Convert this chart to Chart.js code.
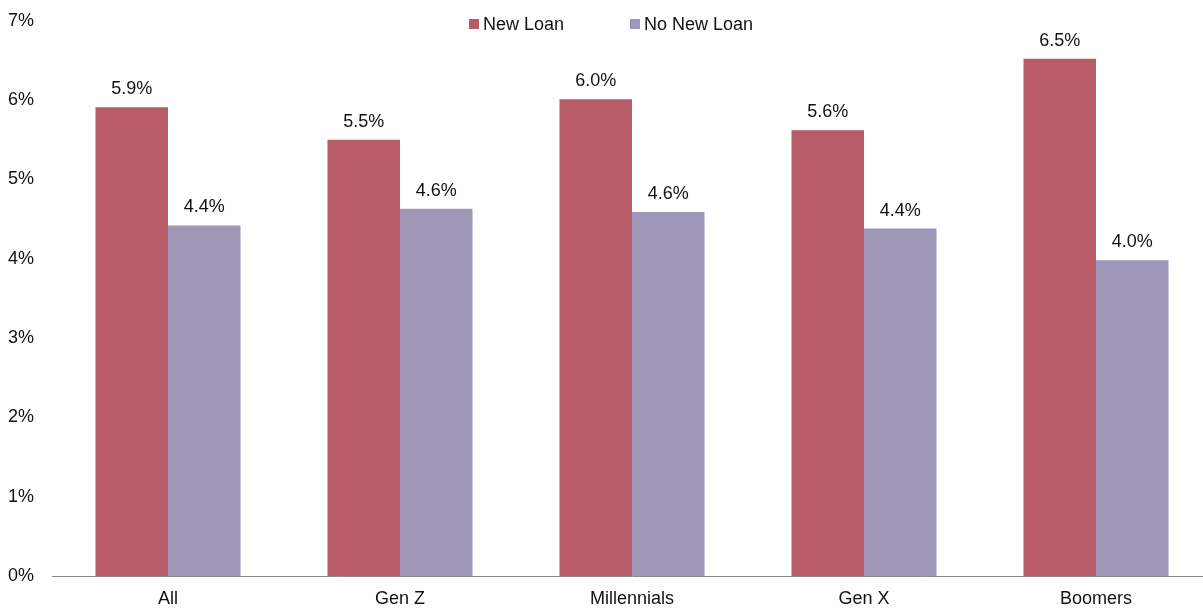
<!DOCTYPE html>
<html>
<head>
<meta charset="utf-8">
<script src="https://cdn.jsdelivr.net/npm/chart.js@4/dist/chart.umd.min.js"></script>
<style>
  html, body { margin: 0; padding: 0; background: #fff; overflow: hidden; }
  .wrap { position: relative; width: 1203px; height: 608px; overflow: hidden; }
  .legend {
    position: absolute; top: 14px; left: 469px;
    font-family: "Liberation Sans", Arial, sans-serif; font-size: 18px; color: #111;
    display: flex; gap: 66px;
  }
  .legend span.sw { display: inline-block; width: 10px; height: 10px; margin-right: 4px; vertical-align: 1px; }
</style>
</head>
<body>
<div class="wrap">
  <!-- plot runs slightly past the right edge, so the canvas is a bit wider than the frame -->
  <canvas id="loanChart" width="1212" height="608"></canvas>
  <div class="legend">
    <div><span class="sw" style="background:#b85c68"></span>New Loan</div>
    <div><span class="sw" style="background:#9e97b8"></span>No New Loan</div>
  </div>
</div>
<script>
// Categories and series (percent)
const groups = ['All', 'Gen Z', 'Millennials', 'Gen X', 'Boomers'];
const newLoan = [5.91, 5.50, 6.01, 5.62, 6.52];
const noNewLoan = [4.42, 4.63, 4.59, 4.38, 3.98];
const yTicks = [0, 1, 2, 3, 4, 5, 6, 7];

const FONT = '"Liberation Sans", Arial, sans-serif';

// Value labels above each bar
const barLabels = {
    id: 'barLabels',
    afterDatasetsDraw(chart) {
        const ctx = chart.ctx;
        ctx.save();
        ctx.font = '18px ' + FONT;
        ctx.fillStyle = '#111';
        ctx.textAlign = 'center';
        ctx.textBaseline = 'middle';
        chart.data.datasets.forEach((ds, i) => {
            chart.getDatasetMeta(i).data.forEach((bar, j) => {
                ctx.fillText(ds.data[j].toFixed(1) + '%', bar.x, bar.y - 18);
            });
        });
        ctx.restore();
    }
};

new Chart(document.getElementById('loanChart'), {
    type: 'bar',
    data: {
        labels: groups,
        datasets: [
            { label: 'New Loan', data: newLoan, backgroundColor: '#b85c68' },
            { label: 'No New Loan', data: noNewLoan, backgroundColor: '#9e97b8' }
        ]
    },
    options: {
        responsive: false,
        animation: false,
        categoryPercentage: 0.625,
        barPercentage: 1.0,
        layout: { padding: { top: 17, right: 0, left: 8 } },
        plugins: {
            legend: { display: false },
            tooltip: { enabled: false }
        },
        scales: {
            x: {
                grid: { display: false, drawTicks: false },
                border: { display: true, color: '#8c8c8c', width: 1 },
                ticks: { color: '#111', font: { family: FONT, size: 18 }, padding: 12 },
                afterFit(scale) { scale.height = 32; }
            },
            y: {
                min: 0,
                max: 7,
                afterBuildTicks(scale) { scale.ticks = yTicks.map(v => ({ value: v })); },
                grid: { display: false, drawTicks: false },
                border: { display: false },
                ticks: {
                    color: '#111',
                    font: { family: FONT, size: 18 },
                    crossAlign: 'far',
                    padding: 10,
                    callback: v => v + '%'
                },
                afterFit(scale) { scale.width = 44; }
            }
        }
    },
    plugins: [barLabels]
});
</script>
</body>
</html>
